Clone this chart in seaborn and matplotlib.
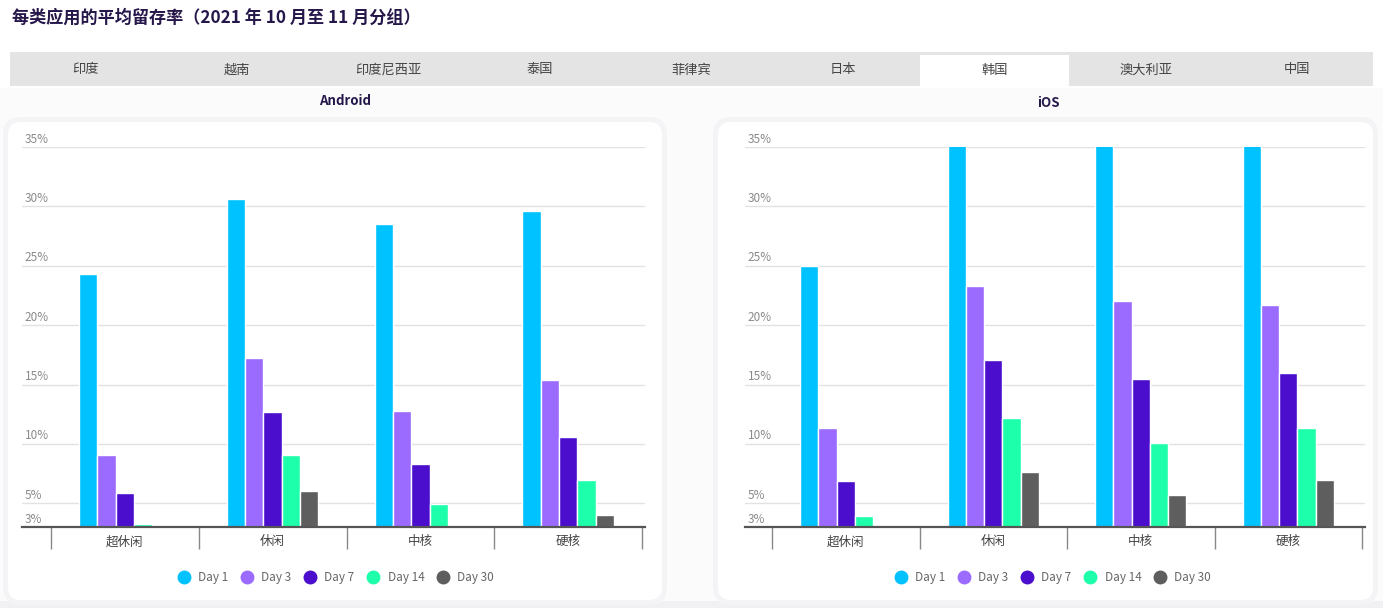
import matplotlib
matplotlib.use("Agg")
import matplotlib.pyplot as plt
import matplotlib.patches as mpatches
from matplotlib.lines import Line2D
import pandas as pd
import seaborn as sns

# data (retention %, y axis starts at 3%)
categories = ["超休闲", "休闲", "中核", "硬核"]
days = ["Day 1", "Day 3", "Day 7", "Day 14", "Day 30"]
colors = ["#00c2ff", "#9b6bff", "#4a0ecc", "#1dffab", "#5e5e5e"]

android = {
    "Day 1": [24.3, 30.6, 28.5, 29.6],
    "Day 3": [9.1, 17.2, 12.8, 15.4],
    "Day 7": [5.9, 12.7, 8.3, 10.6],
    "Day 14": [3.25, 9.1, 4.9, 7.0],
    "Day 30": [2.9, 6.0, 2.9, 4.0],
}
ios = {
    "Day 1": [25.0, 37.0, 37.0, 37.0],
    "Day 3": [11.3, 23.3, 22.0, 21.7],
    "Day 7": [6.9, 17.1, 15.5, 16.0],
    "Day 14": [3.9, 12.2, 10.1, 11.3],
    "Day 30": [2.9, 7.6, 5.7, 7.0],
}
yticks = [3, 5, 10, 15, 20, 25, 30, 35]
tabs = ["印度", "越南", "印度尼西亚", "泰国", "菲律宾", "日本", "韩国", "澳大利亚", "中国"]
selected_tab = "韩国"
title = "每类应用的平均留存率（2021 年 10 月至 11 月分组）"

sns.set_theme(style="white")
plt.rcParams["font.family"] = ["Noto Sans CJK SC", "DejaVu Sans"]

W, H = 1383, 608
fig = plt.figure(figsize=(W / 100, H / 100), dpi=100)
fig.patch.set_facecolor("white")


def px(x, y):
    # pixel (from top-left) -> figure fraction
    return x / W, 1 - y / H


def box(x0, y0, x1, y1, color, radius=0, z=-10):
    fx, fy = px(x0, y1)
    w, h = (x1 - x0) / W, (y1 - y0) / H
    if radius:
        p = mpatches.FancyBboxPatch((fx, fy), w, h,
                                    boxstyle=f"round,pad=0,rounding_size={radius / W}",
                                    transform=fig.transFigure, facecolor=color,
                                    edgecolor="none", zorder=z, mutation_aspect=W / H)
    else:
        p = mpatches.Rectangle((fx, fy), w, h, transform=fig.transFigure,
                               facecolor=color, edgecolor="none", zorder=z)
    fig.patches.append(p)


# page background / shadows
box(0, 88, W, H, "#fbfbfc", z=-20)
box(0, 601, W, H, "#f1f1f3", z=-19)
box(3, 117, 667, 605, "#f4f4f6", radius=18, z=-18)
box(713, 117, 1378, 605, "#f4f4f6", radius=18, z=-18)
box(8, 122, 662, 600, "white", radius=13, z=-15)
box(718, 122, 1373, 600, "white", radius=13, z=-15)

# tab bar
box(10, 52, 1373, 86, "#e4e4e4")
tab_w = (1373 - 10) / len(tabs)
for i, t in enumerate(tabs):
    cx = 10 + tab_w * (i + 0.5)
    if t == selected_tab:
        box(10 + tab_w * i + 1, 55, 10 + tab_w * (i + 1) - 1, 86, "white", z=-5)
    fig.text(*px(cx, 70), t, ha="center", va="center", fontsize=9.5, color="#444444")

fig.text(*px(12, 18), title, ha="left", va="center", fontsize=12.3, fontweight="bold",
         color="#26174a")
fig.text(*px(345, 101), "Android", ha="center", va="center", fontsize=9.5,
         fontweight="bold", color="#26174a")
fig.text(*px(1048, 103), "iOS", ha="center", va="center", fontsize=9.5,
         fontweight="bold", color="#26174a")


def draw(data, x0, x1, sep_left, sep_right, legend_cx):
    ax = fig.add_axes([x0 / W, 1 - 527 / H, (x1 - x0) / W, (527 - 147) / H])
    ax.set_facecolor("none")
    rows = []
    for d in days:
        for c, v in zip(categories, data[d]):
            rows.append({"cat": c, "day": d, "val": v})
    df = pd.DataFrame(rows)
    sns.barplot(data=df, x="cat", y="val", hue="day", order=categories, hue_order=days,
                palette=colors, width=0.62, edgecolor="white", linewidth=1,
                saturation=1, ax=ax, legend=False)
    cw = (sep_right - sep_left) / 4
    left = -0.5 - (sep_left - x0) / cw
    right = 3.5 + (x1 - sep_right) / cw
    ax.set_xlim(left, right)
    ax.set_ylim(3, 35)
    ax.set_yticks(yticks[1:])
    ax.set_yticklabels([])
    ax.tick_params(axis="y", length=0)
    ax.grid(axis="y", color="#e2e2e2", linewidth=1)
    ax.set_axisbelow(True)
    for v in yticks:
        ax.text(left + 0.02, v + 0.12, f"{v}%", ha="left", va="bottom", fontsize=8.5,
                color="#8a8a8a", fontweight="light")
    for s in ["top", "right", "left"]:
        ax.spines[s].set_visible(False)
    ax.spines["bottom"].set_color("#555555")
    ax.spines["bottom"].set_linewidth(1.6)
    ax.set_xticks(range(len(categories)))
    ax.set_xticklabels(categories, fontsize=9, color="#444444")
    ax.set_xticks([i - 0.5 for i in range(len(categories) + 1)], minor=True)
    ax.tick_params(axis="x", which="major", bottom=False, length=0, pad=6)
    ax.tick_params(axis="x", which="minor", bottom=True, length=16, width=1,
                   color="#888888", direction="out")
    ax.set_xlabel("")
    ax.set_ylabel("")
    handles = [Line2D([], [], marker="o", linestyle="none", markersize=9,
                      markerfacecolor=c, markeredgecolor=c) for c in colors]
    fig.legend(handles, days, loc="center", bbox_to_anchor=px(legend_cx, 578),
               ncol=5, frameon=False, fontsize=8.5, handletextpad=0.2,
               columnspacing=0.6, labelcolor="#666666")
    return ax


draw(android, 22, 645, 51, 642, 333)
draw(ios, 745, 1365, 772, 1362, 1050)

fig.savefig("out.png", dpi=100, facecolor=fig.get_facecolor())
